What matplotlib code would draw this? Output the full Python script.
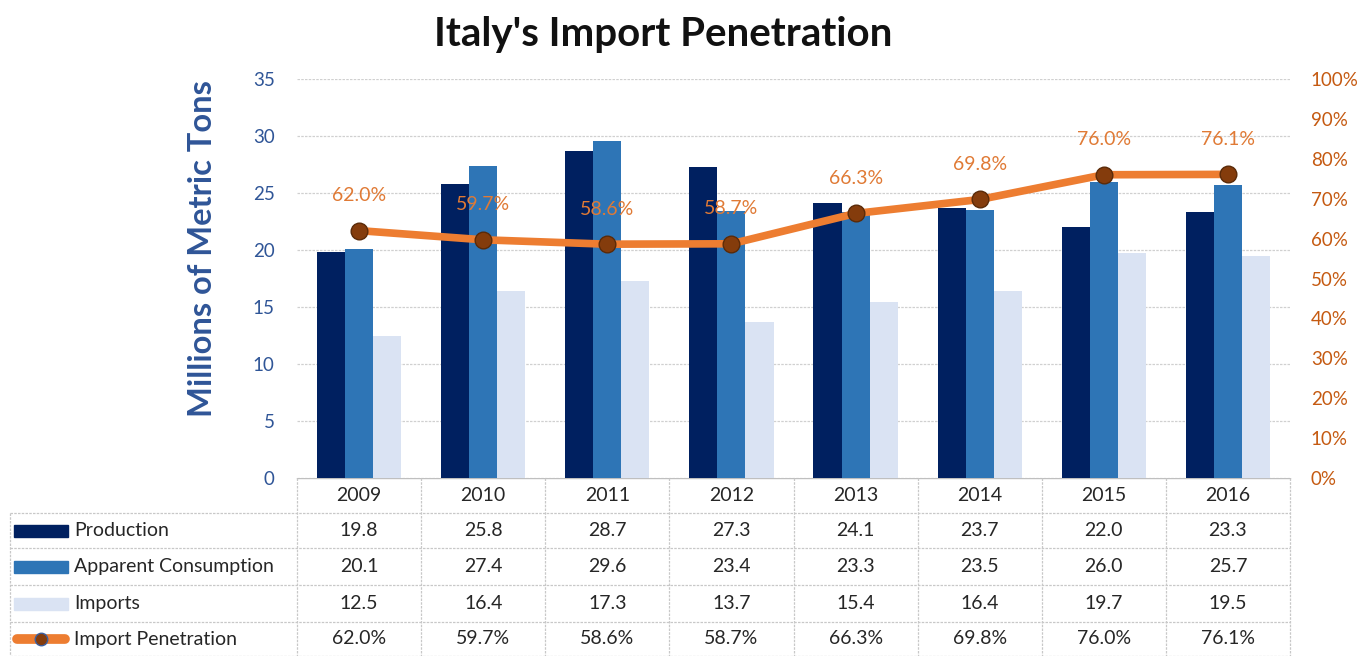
import numpy as np
import matplotlib
matplotlib.use("Agg")
import matplotlib.pyplot as plt
from matplotlib.patches import Rectangle

plt.rcParams['font.family'] = ['Lato', 'DejaVu Sans']

years = ["2009", "2010", "2011", "2012", "2013", "2014", "2015", "2016"]
production = [19.8, 25.8, 28.7, 27.3, 24.1, 23.7, 22.0, 23.3]
consumption = [20.1, 27.4, 29.6, 23.4, 23.3, 23.5, 26.0, 25.7]
imports = [12.5, 16.4, 17.3, 13.7, 15.4, 16.4, 19.7, 19.5]
penetration = [62.0, 59.7, 58.6, 58.7, 66.3, 69.8, 76.0, 76.1]

C_PROD = "#002060"
C_CONS = "#2E75B6"
C_IMP = "#DAE3F3"
C_LINE = "#ED7D31"
C_MARK = "#843C0C"
C_BLUE = "#2F5597"
C_ORANGE = "#C55A11"
C_TXT = "#262626"
C_GRID = "#D0D0D0"

W, H = 1360, 656
fig = plt.figure(figsize=(W / 100, H / 100), dpi=100)

# plot area in pixel terms
x0, x1, ybot, ytop = 297, 1290, 478, 79
ax = fig.add_axes([x0 / W, (H - ybot) / H, (x1 - x0) / W, (ybot - ytop) / H])
x = np.arange(len(years))
bw = 0.226
ax.bar(x - bw, production, bw, color=C_PROD, zorder=3)
ax.bar(x, consumption, bw, color=C_CONS, zorder=3)
ax.bar(x + bw, imports, bw, color=C_IMP, zorder=3)
ax.set_xlim(-0.5, len(years) - 0.5)
ax.set_ylim(0, 35)
ax.set_yticks(np.arange(0, 36, 5))
ax.tick_params(axis="y", length=0, labelsize=13.5, labelcolor=C_BLUE, pad=16)
ax.set_xticks([])
for s in ax.spines.values():
    s.set_visible(False)
ax.grid(axis="y", color=C_GRID, linestyle=(0, (2, 1)), linewidth=0.9, zorder=0)
ax.set_ylabel("Millions of Metric Tons", fontsize=23.5, color=C_BLUE,
              fontweight="bold")
ax.yaxis.set_label_coords(-0.081, 0.575)

ax2 = ax.twinx()
ax2.plot(x, penetration, color=C_LINE, lw=5.5, solid_capstyle="round", zorder=4)
ax2.plot(x, penetration, "o", ms=12, mfc=C_MARK, mec="#5a2a08", mew=1, zorder=5)
for xi, p in zip(x, penetration):
    ax2.annotate(f"{p:.1f}%", (xi, p), xytext=(0, 19), textcoords="offset points",
                 ha="center", va="bottom", fontsize=14, color="#E07A35", zorder=6)
ax2.set_ylim(0, 100)
ax2.set_yticks(np.arange(0, 101, 10))
ax2.set_yticklabels([f"{v}%" for v in range(0, 101, 10)])
ax2.tick_params(axis="y", length=0, labelsize=13.5, labelcolor=C_ORANGE, pad=15)
for s in ax2.spines.values():
    s.set_visible(False)

fig.text(0.488, 0.948, "Italy's Import Penetration", ha="center", va="center",
         fontsize=29, fontweight="bold", color="#111111")

# data table below the plot
tax = fig.add_axes([0, 0, 1, (H - ybot) / H])
tax.set_xlim(0, W)
tax.set_ylim(H, ybot)
tax.axis("off")
lx0 = 10
colw = (x1 - x0) / len(years)
row_edges = [478, 513, 548, 585, 622, 656]
grid_kw = dict(color="#C8C8C8", lw=0.9, linestyle=(0, (2, 1)))

# horizontal lines
tax.plot([x0, x1], [row_edges[0]] * 2, color="#BFBFBF", lw=1)
for ye in row_edges[1:]:
    tax.plot([lx0, x1], [ye, ye], **grid_kw)
# vertical lines
for i in range(len(years) + 1):
    xv = x0 + i * colw
    tax.plot([xv, xv], [row_edges[0], row_edges[-1]], **grid_kw)
tax.plot([lx0, lx0], [row_edges[1], row_edges[-1]], **grid_kw)

for i, yr in enumerate(years):
    tax.text(x0 + (i + 0.5) * colw, (row_edges[0] + row_edges[1]) / 2, yr,
             ha="center", va="center", fontsize=14, color=C_TXT)

rows = [
    ("Production", [f"{v:.1f}" for v in production], C_PROD),
    ("Apparent Consumption", [f"{v:.1f}" for v in consumption], C_CONS),
    ("Imports", [f"{v:.1f}" for v in imports], C_IMP),
    ("Import Penetration", [f"{v:.1f}%" for v in penetration], None),
]
for r, (name, vals, col) in enumerate(rows):
    yc = (row_edges[r + 1] + row_edges[r + 2]) / 2
    if col is not None:
        tax.add_patch(Rectangle((14, yc - 6), 54, 12, color=col))
    else:
        tax.plot([17, 65], [yc, yc], color=C_LINE, lw=7, solid_capstyle="round")
        tax.plot([41], [yc], "o", ms=9, mfc=C_MARK, mec="#3b5fa0", mew=1)
    tax.text(74, yc, name, ha="left", va="center", fontsize=14, color=C_TXT)
    for i, v in enumerate(vals):
        tax.text(x0 + (i + 0.5) * colw, yc, v, ha="center", va="center",
                 fontsize=14, color=C_TXT)

fig.savefig("out.png", dpi=100)
